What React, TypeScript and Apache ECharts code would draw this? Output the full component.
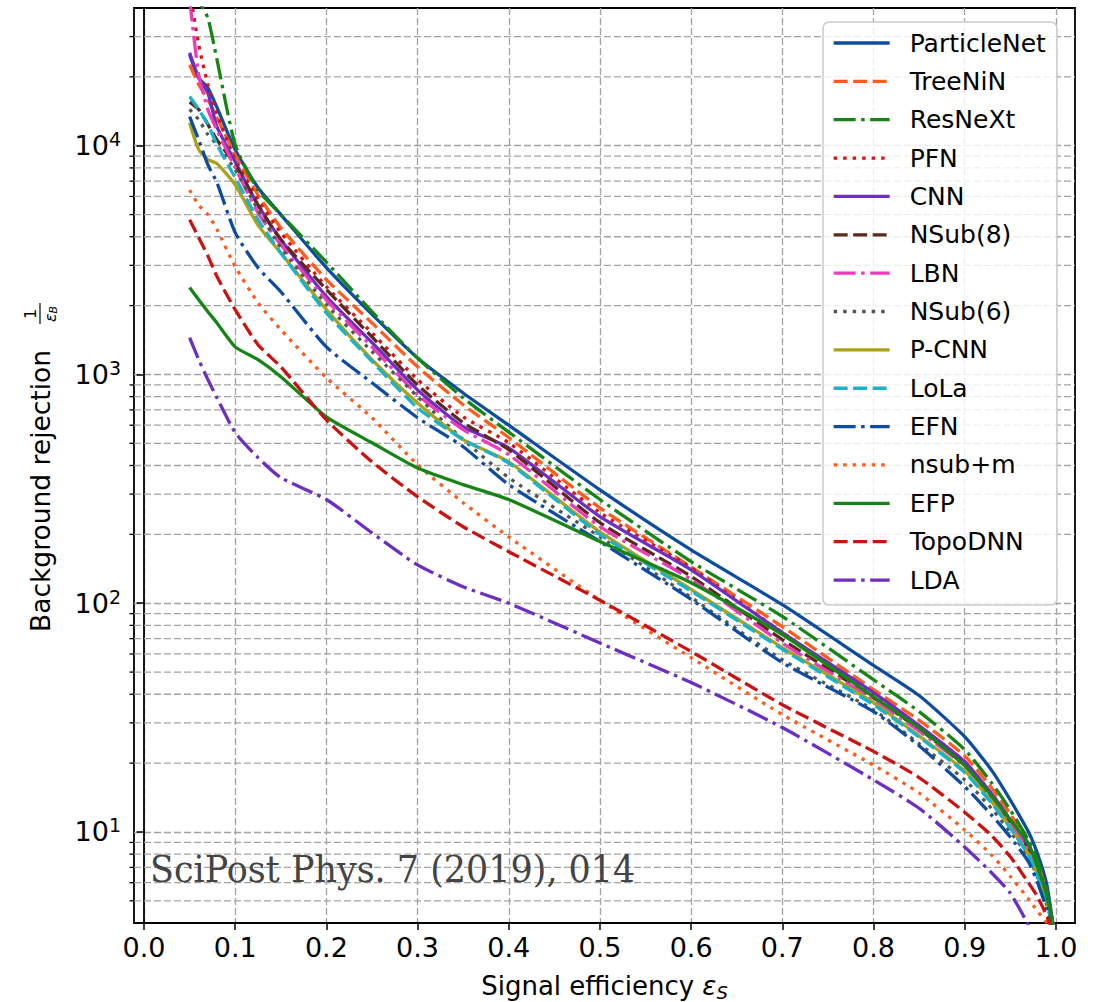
import React, { useEffect, useRef } from 'react';
import * as echarts from 'echarts';

// Signal efficiency sample points (x)
const EFF_S = [0.05, 0.06, 0.07, 0.08, 0.1, 0.125, 0.15, 0.2, 0.25, 0.3, 0.35, 0.4, 0.5, 0.6, 0.7, 0.8, 0.85, 0.9, 0.93, 0.95, 0.97, 0.98, 0.99, 0.997];

// Background rejection 1/eps_B per tagger
const PARTICLENET = [25000, 19800, 17900, 14700, 9600, 6550, 5000, 2930, 1830, 1180, 830, 600, 313, 171, 98.5, 53.5, 39.5, 26.1, 18.5, 13.8, 10.0, 8.0, 5.9, 3.9];
const TREENIN = [22600, 18500, 15900, 13300, 9100, 6100, 4380, 2600, 1680, 1080, 737, 530, 261, 144, 79, 41.9, 30.8, 21.5, 15.5, 12.0, 8.8, 7.2, 5.5, 3.9];
const RESNEXT = [70000, 43500, 36200, 23800, 10100, 6400, 5000, 3100, 1880, 1180, 790, 560, 284, 152, 87.5, 46.3, 33.6, 22.9, 16.3, 12.5, 9.2, 7.5, 5.6, 3.9];
const PFN = [48000, 27600, 18500, 13700, 8700, 5800, 4170, 2420, 1520, 950, 653, 503, 249, 143, 74.4, 39.8, 28.8, 20.3, 14.6, 11.3, 8.5, 6.9, 5.3, 3.9];
const CNN = [25500, 19800, 17000, 12100, 8500, 5500, 3890, 2190, 1380, 856, 590, 478, 239, 140, 74.4, 40.7, 29.2, 20.3, 14.6, 11.3, 8.5, 6.9, 5.3, 3.9];
const NSUB8 = [15500, 14400, 12400, 10600, 8260, 5500, 3890, 2350, 1460, 900, 616, 469, 225, 131, 69.3, 38.6, 28.2, 19.6, 14.1, 11.0, 8.3, 6.8, 5.2, 3.9];
const LBN = [43500, 20400, 14400, 11700, 8000, 5100, 3690, 2120, 1320, 816, 574, 446, 216, 127, 67, 37.9, 27.6, 19.4, 14.1, 11.0, 8.3, 6.8, 5.2, 3.9];
const NSUB6 = [14400, 13000, 11200, 10100, 7850, 5250, 3580, 2020, 1260, 800, 519, 354, 195, 106, 56.6, 34.2, 24.3, 16.9, 12.6, 10.0, 7.8, 6.3, 4.8, 3.9];
const PCNN = [12600, 9600, 8700, 8350, 6750, 4500, 3400, 1920, 1160, 750, 519, 415, 205, 115, 64, 36.8, 26.3, 18.5, 13.5, 10.5, 8.0, 6.5, 5.0, 3.9];
const LOLA = [16400, 14400, 12400, 10100, 7250, 4750, 3400, 1860, 1140, 715, 519, 410, 200, 113, 63, 36, 26.0, 18.2, 13.3, 10.4, 7.9, 6.4, 4.95, 3.9];
const EFN = [13400, 10600, 8260, 6900, 4170, 2930, 2300, 1320, 920, 647, 483, 330, 186, 104, 55, 33.6, 23.8, 15.8, 11.8, 9.5, 7.4, 6.0, 4.6, 3.7];
const NSUB_M = [6400, 5500, 5000, 4300, 2960, 2060, 1570, 967, 647, 403, 275, 195, 103, 57.8, 32.6, 19.6, 14.8, 10.2, 7.9, 6.4, 5.1, 4.5, 4.0, 3.5];
const EFP = [2400, 2120, 1880, 1680, 1320, 1160, 978, 653, 503, 390, 330, 284, 186, 123, 73, 39, 28.5, 19.5, 14.3, 11.3, 8.9, 7.0, 5.3, 3.9];
const TOPODNN = [4750, 3960, 3300, 2680, 1920, 1350, 1080, 633, 415, 292, 216, 168, 103, 61.5, 36, 22.5, 17.3, 12.2, 9.6, 7.8, 6.0, 5.2, 4.3, 3.6];
const LDA = [1450, 1160, 950, 790, 557, 433, 354, 284, 203, 147, 118, 100, 67, 45, 28.6, 16.9, 12.7, 8.6, 6.6, 5.4, 3.9, 3.0, 2.0, 1.2];

const NAMES = ['ParticleNet', 'TreeNiN', 'ResNeXt', 'PFN', 'CNN', 'NSub(8)', 'LBN', 'NSub(6)', 'P-CNN', 'LoLa', 'EFN', 'nsub+m', 'EFP', 'TopoDNN', 'LDA'];
const VALUES = [PARTICLENET, TREENIN, RESNEXT, PFN, CNN, NSUB8, LBN, NSUB6, PCNN, LOLA, EFN, NSUB_M, EFP, TOPODNN, LDA];
const COLORS = ['#0d4c9e', '#ff5b1c', '#168516', '#d81414', '#6c2fbf', '#5b2a1d', '#ea3dba', '#555555', '#aaa21a', '#19b2c8', '#0d4c9e', '#ff5b1c', '#168516', '#cc1111', '#6c2fbf'];
const STYLES = ['solid', 'dash', 'dashdot', 'dot', 'solid', 'dash', 'dashdot', 'dot', 'solid', 'dash', 'dashdot', 'dot', 'solid', 'dash', 'dashdot'];

// Axis ticks
const X_MIN = -0.011;
const X_MAX = 1.021;
const Y_MIN = 4;
const Y_MAX = 40000;
const X_TICKS = [0, 0.1, 0.2, 0.3, 0.4, 0.5, 0.6, 0.7, 0.8, 0.9, 1.0];
const Y_TICKS = [10, 100, 1000, 10000];
const Y_MINOR = [5, 6, 7, 8, 9, 20, 30, 40, 50, 60, 70, 80, 90, 200, 300, 400, 500, 600, 700, 800, 900, 2000, 3000, 4000, 5000, 6000, 7000, 8000, 9000, 20000, 30000];

const LW = 3.3;
const DASHES: Record<string, any> = {
  solid: 'solid',
  dash: [14, 5.5],
  dashdot: [22, 5.5, 3.5, 5.5],
  dot: [3.5, 6],
};

const GRID_COLOR = '#a3a3a3';
const GRID_DASH = [7, 3];
const FONT = '"DejaVu Sans", sans-serif';

export default function App() {
  const ref = useRef<HTMLDivElement>(null);
  useEffect(() => {
    if (!ref.current) return;
    const chart = echarts.init(ref.current, null, { renderer: 'svg' });

    const lineSeries = NAMES.map((name, i) => ({
      name,
      type: 'line',
      data: EFF_S.map((x, j) => [x, VALUES[i][j]]),
      symbol: 'none',
      showSymbol: false,
      smooth: 0.2,
      z: 3,
      lineStyle: { color: COLORS[i], width: LW, type: DASHES[STYLES[i]], cap: 'butt' },
      itemStyle: { color: COLORS[i] },
      emphasis: { disabled: true },
    }));

    const minorSeries = {
      name: 'minor',
      type: 'custom',
      silent: true,
      clip: false,
      z: 1,
      data: Y_MINOR.map((v) => [X_MIN, v]),
      renderItem: (params: any, api: any) => {
        const v = api.value(1);
        const p0 = api.coord([X_MIN, v]);
        const p1 = api.coord([X_MAX, v]);
        return {
          type: 'group',
          children: [
            {
              type: 'line',
              shape: { x1: p0[0], y1: p0[1], x2: p1[0], y2: p1[1] },
              style: { stroke: GRID_COLOR, lineWidth: 1.3, lineDash: GRID_DASH },
            },
            {
              type: 'line',
              shape: { x1: p0[0] - 4.5, y1: p0[1], x2: p0[0], y2: p0[1] },
              style: { stroke: '#000', lineWidth: 1.3 },
            },
          ],
        };
      },
    };

    const option: any = {
      animation: false,
      backgroundColor: '#fff',
      grid: {
        left: 134,
        right: 35,
        top: 8,
        bottom: 79,
        show: true,
        borderColor: '#000',
        borderWidth: 1.8,
        backgroundColor: 'transparent',
        containLabel: false,
        outerBoundsMode: 'none',
      },
      xAxis: {
        type: 'value',
        min: X_MIN,
        max: X_MAX,
        splitNumber: 10,
        axisLine: { show: true, lineStyle: { color: '#000', width: 1.8 } },
        axisTick: { show: true, length: 7, lineStyle: { color: '#000', width: 1.5 }, customValues: X_TICKS },
        axisLabel: {
          customValues: X_TICKS,
          margin: 11,
          fontSize: 27,
          fontFamily: FONT,
          color: '#000',
          formatter: (v: number) => v.toFixed(1),
        },
        splitLine: { show: true, lineStyle: { color: GRID_COLOR, width: 1.3, type: GRID_DASH } },
        name: '{t|Signal efficiency }{e|ε}{s|S}',
        nameLocation: 'middle',
        nameGap: 48,
        nameTextStyle: {
          rich: {
            t: { fontSize: 26, fontFamily: FONT, color: '#000', lineHeight: 30 },
            e: { fontSize: 26, fontFamily: FONT, fontStyle: 'italic', color: '#000', lineHeight: 30 },
            s: { fontSize: 18, fontFamily: FONT, fontStyle: 'italic', color: '#000', lineHeight: 22, verticalAlign: 'bottom' },
          },
        },
      },
      yAxis: {
        type: 'log',
        logBase: 10,
        min: Y_MIN,
        max: Y_MAX,
        axisLine: { show: true, lineStyle: { color: '#000', width: 1.8 } },
        axisTick: { show: true, length: 7.5, lineStyle: { color: '#000', width: 1.5 }, customValues: Y_TICKS },
        axisLabel: {
          customValues: Y_TICKS,
          margin: 13,
          formatter: (v: number) => `{b|10}{s|${Math.round(Math.log10(v))}}`,
          rich: {
            b: { fontSize: 27, fontFamily: FONT, color: '#000', lineHeight: 32 },
            s: { fontSize: 19, fontFamily: FONT, color: '#000', lineHeight: 19, verticalAlign: 'top' },
          },
        },
        splitLine: { show: true, lineStyle: { color: GRID_COLOR, width: 1.3, type: GRID_DASH } },
      },
      legend: {
        data: NAMES,
        orient: 'vertical',
        left: 823,
        top: 22,
        itemWidth: 56,
        itemHeight: 14,
        itemGap: 8.36,
        padding: [6, 11, 10, 9],
        backgroundColor: 'rgba(255,255,255,0.82)',
        borderColor: '#cccccc',
        borderWidth: 1.5,
        borderRadius: 6,
        selectedMode: false,
        itemStyle: { opacity: 0, borderWidth: 0 },
        lineStyle: { width: LW },
        textStyle: { fontSize: 25, fontFamily: FONT, color: '#000', lineHeight: 30, padding: [0, 0, 0, 15] },
      },
      graphic: [
        {
          type: 'text',
          x: 150,
          y: 869,
          z: 10,
          scaleX: 0.92,
          style: {
            text: 'SciPost Phys. 7 (2019), 014',
            fontSize: 38,
            fontFamily: '"DejaVu Serif", serif',
            fill: '#444444',
            textAlign: 'left',
            textVerticalAlign: 'middle',
            align: 'left',
            verticalAlign: 'middle',
          },
        },
        {
          type: 'group',
          x: 40,
          y: 467,
          rotation: Math.PI / 2,
          children: [
            {
              type: 'text',
              x: -165,
              y: 0,
              style: {
                text: 'Background rejection',
                fontSize: 26.5,
                fontFamily: FONT,
                fill: '#000',
                textAlign: 'left',
                textVerticalAlign: 'middle',
                align: 'left',
                verticalAlign: 'middle',
              },
            },
            {
              type: 'text',
              x: 153,
              y: -10,
              style: {
                text: '1',
                fontSize: 16,
                fontFamily: FONT,
                fill: '#000',
                textAlign: 'center',
                textVerticalAlign: 'middle',
                align: 'center',
                verticalAlign: 'middle',
              },
            },
            {
              type: 'line',
              shape: { x1: 143, y1: 0, x2: 164, y2: 0 },
              style: { stroke: '#000', lineWidth: 1.2 },
            },
            {
              type: 'text',
              x: 153,
              y: 10,
              style: {
                text: '{e|ε}{s|B}',
                textAlign: 'center',
                textVerticalAlign: 'middle',
                align: 'center',
                verticalAlign: 'middle',
                rich: {
                  e: { fontSize: 16, fontFamily: FONT, fontStyle: 'italic', fill: '#000', lineHeight: 18 },
                  s: { fontSize: 11, fontFamily: FONT, fontStyle: 'italic', fill: '#000', lineHeight: 12, verticalAlign: 'bottom' },
                },
              },
            },
          ],
        },
      ],
      series: [minorSeries, ...lineSeries],
    };

    chart.setOption(option);
    return () => chart.dispose();
  }, []);

  return (
    <div
      ref={ref}
      style={{ position: 'absolute', left: 0, top: 0, width: 1110, height: 1002, background: '#fff' }}
    />
  );
}
